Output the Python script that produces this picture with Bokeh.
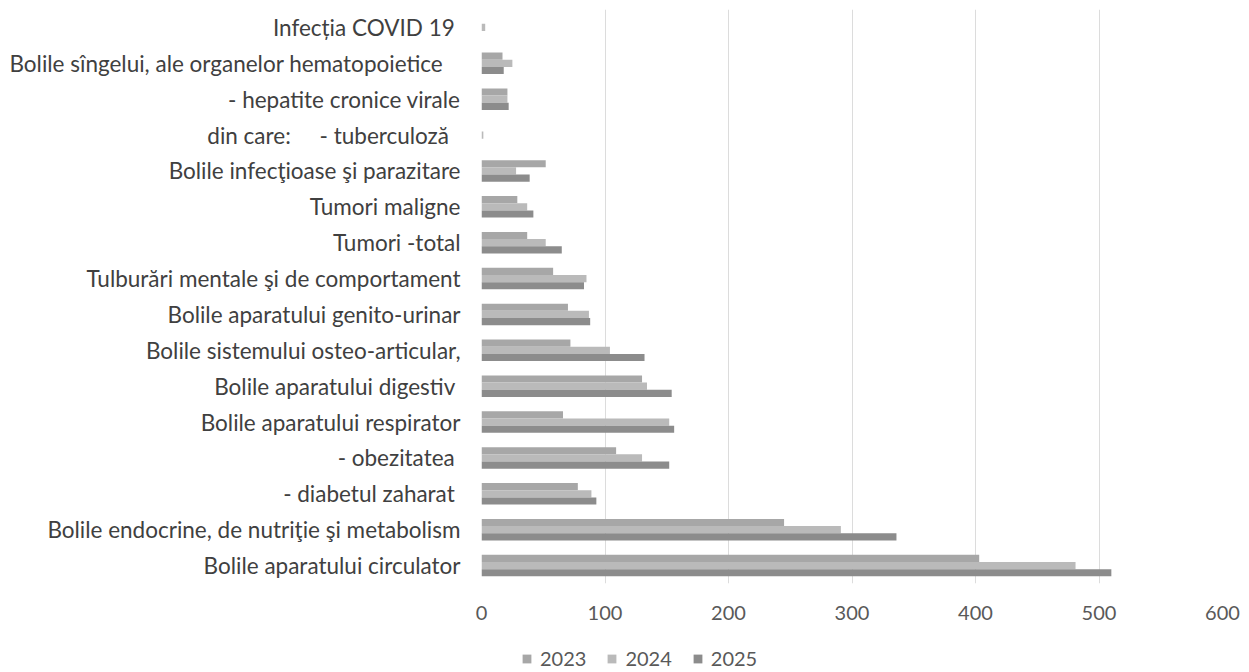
from bokeh.plotting import figure
from bokeh.layouts import column
from bokeh.models import ColumnDataSource, FactorRange, Range1d, Legend, LegendItem, FixedTicker
from bokeh.transform import dodge
from bokeh.embed import file_html
from bokeh.resources import INLINE

NB = "\u00a0"
# categories, top to bottom as in the picture
categories = [
    "Infecția COVID 19" + NB,
    "Bolile sîngelui, ale organelor hematopoietice" + NB * 3,
    "- hepatite cronice virale",
    "din care:" + NB * 5 + "- tuberculoză" + NB * 2,
    "Bolile infecţioase şi parazitare",
    "Tumori maligne",
    "Tumori -total",
    "Tulburări mentale şi de comportament",
    "Bolile aparatului genito-urinar",
    "Bolile sistemului osteo-articular,",
    "Bolile aparatului digestiv" + NB,
    "Bolile aparatului respirator",
    "- obezitatea" + NB,
    "- diabetul zaharat" + NB,
    "Bolile endocrine, de nutriţie şi metabolism",
    "Bolile aparatului circulator",
]
v2023 = [0, 17, 21, 0, 52, 29, 37, 58, 70, 72, 130, 66, 109, 78, 245, 403]
v2024 = [3, 25, 21, 1.5, 28, 37, 52, 85, 87, 104, 134, 152, 130, 89, 291, 481]
v2025 = [0, 18, 22, 0, 39, 42, 65, 83, 88, 132, 154, 156, 152, 93, 336, 510]
years = ["2023", "2024", "2025"]
x_ticks = [0, 100, 200, 300, 400, 500, 600]
colors = ["#a7a7a7", "#bababa", "#8c8c8c"]

src = ColumnDataSource(dict(cat=categories, y2023=v2023, y2024=v2024, y2025=v2025))

p = figure(width=1240, height=640, output_backend="svg", toolbar_location=None,
           y_range=FactorRange(*list(reversed(categories)), range_padding=0),
           x_range=Range1d(0, 600),
           min_border_left=481, min_border_right=18, min_border_top=9, min_border_bottom=57)
p.outline_line_color = None
p.background_fill_color = "white"
p.border_fill_color = "white"

offs = [0.2, 0.0, -0.2]
renderers = []
for yr, col, off in zip(years, colors, offs):
    r = p.hbar(y=dodge("cat", off, range=p.y_range), right="y" + yr, left=0, height=0.2,
               source=src, fill_color=col, line_color=None)
    renderers.append(r)

for ax in (p.xaxis, p.yaxis):
    ax.axis_line_color = None
    ax.major_tick_line_color = None
    ax.minor_tick_line_color = None
    ax.major_tick_out = 0
    ax.major_tick_in = 0
    ax.minor_tick_out = 0
    ax.major_label_text_font = "Lato"

p.xaxis.ticker = FixedTicker(ticks=x_ticks)
p.xaxis.major_label_text_font_size = "20px"
p.xaxis.major_label_text_color = "#595959"
p.xaxis.major_label_standoff = 22

p.yaxis.major_label_text_font_size = "22.5px"
p.yaxis.major_label_text_color = "#404040"
p.yaxis.major_label_standoff = 21

p.ygrid.grid_line_color = None
p.xgrid.grid_line_color = "#dcdcdc"
p.xgrid.grid_line_width = 1

# legend row (a strip figure; its frame is aligned with the chart's frame)
leg = figure(width=1240, height=30, output_backend="svg", toolbar_location=None,
             x_range=Range1d(0, 1), y_range=Range1d(0, 1),
             min_border_left=0, min_border_right=0, min_border_top=0, min_border_bottom=0)
leg.axis.visible = False
leg.grid.visible = False
leg.outline_line_color = None
leg_src = ColumnDataSource(dict(y=[-5.0], r=[-5.0]))
leg_rs = [leg.hbar(y="y", right="r", left=-6, height=0.1, source=leg_src, fill_color=c, line_color=None)
          for c in colors]
legend = Legend(items=[LegendItem(label=y, renderers=[r]) for y, r in zip(years, leg_rs)],
                orientation="horizontal", location=(40, 0),
                label_text_font="Lato", label_text_font_size="20px", label_text_color="#595959",
                glyph_width=11, glyph_height=11, spacing=20, label_standoff=8,
                border_line_color=None, background_fill_alpha=0, padding=2, margin=0)
leg.add_layout(legend, "center")

open("out.html", "w").write(file_html(column(p, leg, spacing=0), INLINE))
